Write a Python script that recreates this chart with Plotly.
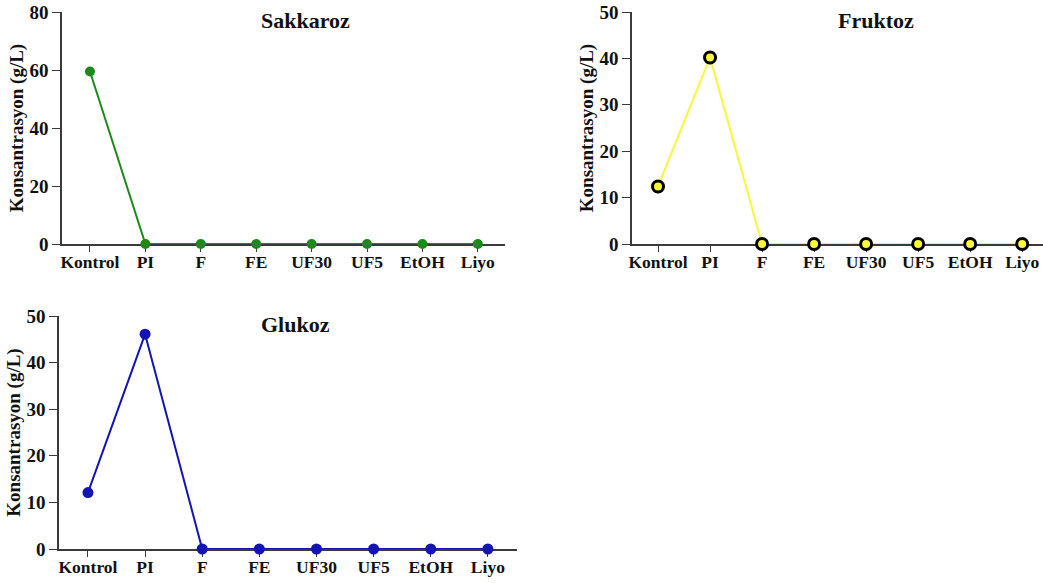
import plotly.graph_objects as go

# Sample groups on the x axis
categories = ["Kontrol", "PI", "F", "FE", "UF30", "UF5", "EtOH", "Liyo"]

# Sugar concentrations (g/L) per sample group
sakkaroz = [59.5, 0, 0, 0, 0, 0, 0, 0]
fruktoz = [12.4, 40.2, 0, 0, 0, 0, 0, 0]
glukoz = [12.1, 46.1, 0, 0, 0, 0, 0, 0]

W, H = 1043, 583
FONT = "Liberation Serif, Times New Roman, serif"
AXIS_COLOR = "#3a3a3a"

idx = list(range(len(categories)))

fig = go.Figure()

# Sakkaroz: green line with filled markers
fig.add_trace(go.Scatter(
    x=idx, y=sakkaroz, mode="lines+markers", xaxis="x", yaxis="y",
    line=dict(color="#1b8a1b", width=2),
    marker=dict(color="#1b8a1b", size=10),
    cliponaxis=False, showlegend=False,
))

# Fruktoz: yellow line with black-ringed markers
fig.add_trace(go.Scatter(
    x=idx, y=fruktoz, mode="lines+markers", xaxis="x2", yaxis="y2",
    line=dict(color="#f8f83a", width=2),
    marker=dict(color="#f8f83a", size=11, line=dict(color="black", width=3)),
    cliponaxis=False, showlegend=False,
))

# Glukoz: blue line with filled markers
fig.add_trace(go.Scatter(
    x=idx, y=glukoz, mode="lines+markers", xaxis="x3", yaxis="y3",
    line=dict(color="#1414b4", width=2),
    marker=dict(color="#1414b4", size=11),
    cliponaxis=False, showlegend=False,
))


def px_x(p):
    return p / W


def px_y(p):
    return 1 - p / H


def xaxis_cfg(dom, rng, anchor):
    return dict(
        domain=dom, range=rng, anchor=anchor, automargin=False,
        tickmode="array", tickvals=idx, ticktext=categories,
        showline=True, linecolor=AXIS_COLOR, linewidth=1.6,
        layer="below traces",
        ticks="outside", ticklen=6, tickwidth=1.4, tickcolor=AXIS_COLOR,
        ticklabelstandoff=-5,
        showgrid=False, zeroline=False,
        tickfont=dict(family=FONT, size=17.5, color="#111", weight="bold"),
    )


def yaxis_cfg(dom, rng, dtick, anchor):
    return dict(
        domain=dom, range=rng, anchor=anchor, dtick=dtick, automargin=False,
        showline=True, linecolor=AXIS_COLOR, linewidth=1.6,
        layer="below traces",
        ticks="outside", ticklen=8, tickwidth=1.4, tickcolor=AXIS_COLOR,
        showgrid=False, zeroline=False,
        tickfont=dict(family=FONT, size=19, color="#111", weight="bold"),
        title=dict(text="Konsantrasyon (g/L)",
                   font=dict(family=FONT, size=19, color="#111", weight="bold"),
                   standoff=1),
    )


fig.update_layout(
    width=W, height=H,
    margin=dict(l=0, r=0, t=0, b=0, autoexpand=False),
    paper_bgcolor="white", plot_bgcolor="white",
    font=dict(family=FONT, color="#111"),
    xaxis=xaxis_cfg([px_x(62), px_x(505)], [-0.505, 7.49], "y"),
    yaxis=yaxis_cfg([px_y(244), px_y(12)], [0, 80], 20, "x"),
    xaxis2=xaxis_cfg([px_x(632), 1.0], [-0.5, 7.4], "y2"),
    yaxis2=yaxis_cfg([px_y(244), px_y(12)], [0, 50], 10, "x2"),
    xaxis3=xaxis_cfg([px_x(59), px_x(517)], [-0.507, 7.51], "y3"),
    yaxis3=yaxis_cfg([px_y(549), px_y(316)], [0, 50], 10, "x3"),
)

# Panel titles
titles = [("Sakkaroz", 305, 21), ("Fruktoz", 876, 21), ("Glukoz", 295, 325)]
for text, cx, cy in titles:
    fig.add_annotation(
        text=text, x=px_x(cx), y=px_y(cy),
        xref="paper", yref="paper", showarrow=False,
        xanchor="center", yanchor="middle",
        font=dict(family=FONT, size=22, color="#111", weight="bold"),
    )

fig.write_html("out.html")
